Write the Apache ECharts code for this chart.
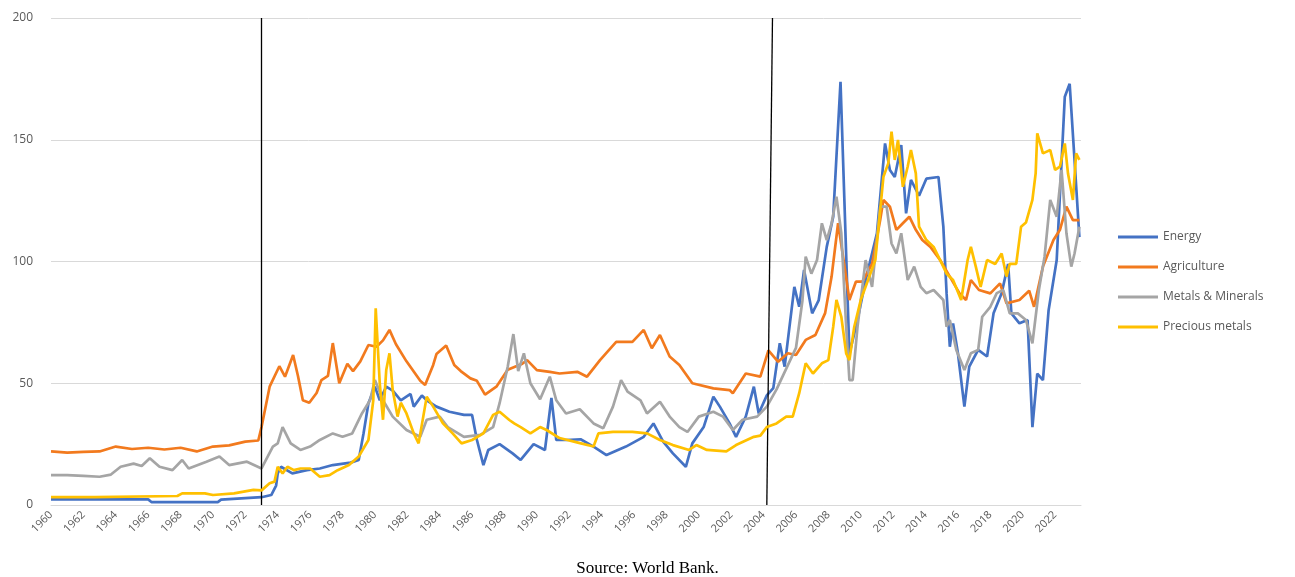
<!DOCTYPE html>
<html>
<head>
<meta charset="utf-8">
<script src="https://cdn.jsdelivr.net/npm/echarts@6/dist/echarts.min.js"></script>
<style>
  html, body { margin: 0; padding: 0; background: #fff; }
  #chart { width: 1295px; height: 577px; }
</style>
</head>
<body>
<div id="chart"></div>
<script>
// series names, colours kept separately
const seriesNames = ['Energy', 'Agriculture', 'Metals & Minerals', 'Precious metals']
const yTicks = [0, 50, 100, 150, 200]
// years with the two black vertical markers (bottom year, top year)
const shockLines = [[1973, 1973], [2004.2, 2004.55]]

// values, [year, index]
const energy = [[1960,2.3],[1962,2.3],[1964,2.3],[1966,2.3],[1966.2,1.2],[1968,1.2],[1970.3,1.2],[1970.5,2.2],[1972,2.8],[1973,3.2],[1973.6,4.1],[1973.9,8],[1974.0,13],[1974.2,15.7],[1974.9,13],[1975.8,14.3],[1976.6,15],[1977.4,16.4],[1978.5,17.4],[1979.0,18.5],[1979.3,29.5],[1979.6,41.8],[1980.0,48.6],[1980.3,43],[1980.7,48.6],[1981.1,47],[1981.6,43],[1982.2,45.6],[1982.4,40.4],[1982.9,45],[1983.2,43],[1983.8,40.4],[1984.6,38.3],[1985.5,37],[1986.0,37],[1986.3,26.7],[1986.7,16.4],[1987.0,22.6],[1987.7,25],[1988.5,21.2],[1989.0,18.5],[1989.8,25],[1990.5,22.6],[1990.9,44],[1991.2,26.7],[1991.8,26.7],[1992.7,27],[1993.5,24],[1994.3,20.5],[1995.5,24],[1996.6,28],[1997.2,33.5],[1997.8,26],[1998.4,21.2],[1999.2,15.7],[1999.6,25.3],[2000.3,32],[2000.9,44.5],[2001.3,40.4],[2001.9,33.5],[2002.3,28],[2002.9,36.3],[2003.4,48.6],[2003.7,37.6],[2004.2,45],[2004.6,48],[2005.0,66.4],[2005.3,56.8],[2005.9,89.6],[2006.2,81.4],[2006.5,96.5],[2007.0,78.7],[2007.4,84],[2007.9,106],[2008.3,118.4],[2008.75,173.8],[2009.3,62],[2009.8,76],[2010.35,93.8],[2011.0,111.6],[2011.5,148.5],[2011.8,137.6],[2012.1,134.7],[2012.5,147.8],[2012.8,119.8],[2013.1,133.5],[2013.6,127],[2014.05,134],[2014.8,134.7],[2015.1,114.3],[2015.3,87],[2015.5,65],[2015.7,74.6],[2016.0,62.3],[2016.4,40.4],[2016.7,56.8],[2017.25,63.7],[2017.8,61],[2018.2,78.7],[2018.7,87],[2019.1,99],[2019.3,78.7],[2019.8,74.6],[2020.3,76],[2020.6,32],[2020.9,54],[2021.25,51.3],[2021.6,80],[2022.1,100.6],[2022.6,167.7],[2022.9,173],[2023.2,141.7],[2023.5,110]]

const agriculture = [[1960,22],[1961,21.5],[1962,21.8],[1963,22],[1964,24],[1965,23],[1966,23.5],[1967,22.8],[1968,23.5],[1969,22],[1970,24],[1971,24.5],[1972,26],[1972.8,26.5],[1973.0,32],[1973.5,48.6],[1974.1,57],[1974.45,52.7],[1974.95,61.6],[1975.25,53],[1975.55,43],[1975.95,42],[1976.4,46],[1976.7,51.3],[1977.1,53],[1977.4,66.5],[1977.8,50],[1978.3,58],[1978.65,55],[1979.1,59],[1979.6,65.7],[1980.1,65],[1980.5,67.6],[1980.9,71.9],[1981.3,66],[1981.95,59],[1982.8,51],[1983.1,49.3],[1983.6,57.5],[1983.8,62],[1984.4,65.5],[1984.9,57.5],[1985.3,55],[1985.9,52],[1986.3,51],[1986.8,45.3],[1987.5,48.6],[1988.2,55.5],[1989.1,58],[1989.4,59.5],[1990.0,55.4],[1990.8,54.7],[1991.4,54],[1992.5,54.7],[1993.1,52.7],[1993.9,59.5],[1994.9,67],[1995.9,67],[1996.6,71.9],[1997.1,64.4],[1997.6,69.8],[1998.2,61],[1998.8,57.5],[1999.6,50],[2000.9,47.9],[2001.9,47.2],[2002.1,45.9],[2002.9,54],[2003.8,52.7],[2004.3,63.5],[2004.9,58.8],[2005.5,62.3],[2006.0,61.6],[2006.6,67.8],[2007.2,69.8],[2007.8,78.8],[2008.2,93.8],[2008.6,115.7],[2009.0,97.9],[2009.3,84.2],[2009.7,91.7],[2010.1,91.7],[2010.7,99],[2011.2,117],[2011.4,125.3],[2011.8,122.5],[2012.2,113],[2012.6,115.7],[2013.0,118.4],[2013.4,113],[2013.8,108.8],[2014.3,106],[2014.9,100.6],[2015.5,93.8],[2016.1,86.9],[2016.5,84.2],[2016.8,92.4],[2017.3,88.3],[2018.0,86.9],[2018.6,91],[2019.0,82.8],[2019.8,84.2],[2020.4,88],[2020.7,81.4],[2021.25,97.9],[2021.9,108.8],[2022.3,113],[2022.7,122.5],[2023.1,117],[2023.5,117]]

const metals = [[1960,12.3],[1961,12.3],[1962,12],[1963,11.6],[1963.7,12.5],[1964.3,15.7],[1965.1,17],[1965.6,16],[1966.1,19.2],[1966.7,15.7],[1967.5,14.3],[1968.1,18.5],[1968.5,15],[1969.6,17.8],[1970.4,19.9],[1971.0,16.4],[1972.1,17.8],[1973.0,15],[1973.7,24],[1974.0,25.3],[1974.3,32],[1974.8,25.3],[1975.4,22.6],[1976.0,24],[1976.6,26.7],[1977.4,29.4],[1978.0,28],[1978.6,29.4],[1979.2,37.6],[1979.7,43],[1980.0,51.3],[1980.5,43],[1981.1,36.3],[1981.95,30.8],[1982.8,28],[1983.2,35],[1984.0,36.3],[1984.5,32],[1985.5,28],[1986.5,28.8],[1987.3,32],[1987.7,41.8],[1988.2,56.8],[1988.55,70.2],[1988.85,55],[1989.2,62.3],[1989.6,50],[1990.2,43.4],[1990.8,52.7],[1991.2,43],[1991.8,37.6],[1992.65,39.3],[1993.5,33.5],[1994.1,31.5],[1994.7,40.4],[1995.2,51.3],[1995.6,46.6],[1996.4,43],[1996.8,37.6],[1997.6,42.4],[1998.2,36.3],[1998.8,32],[1999.3,30],[2000.0,36.3],[2000.9,38.3],[2001.5,36.3],[2002.1,30.8],[2002.7,35],[2003.6,36.3],[2004.2,40.4],[2004.8,47.5],[2005.4,56],[2006.0,64.5],[2006.4,84],[2006.6,102],[2006.95,95],[2007.3,100.6],[2007.6,115.7],[2007.9,108.8],[2008.2,115.7],[2008.5,126.6],[2008.8,111.6],[2009.1,73.2],[2009.3,51.3],[2009.5,51.3],[2009.8,73.2],[2010.1,89.6],[2010.3,100.6],[2010.7,89.6],[2011.2,122.5],[2011.6,122.5],[2011.9,107.4],[2012.2,103.3],[2012.5,111.6],[2012.9,92.4],[2013.3,97.9],[2013.7,89.6],[2014.05,87],[2014.5,88.3],[2015.1,84.2],[2015.3,73.2],[2015.5,76],[2015.9,63.7],[2016.4,55.4],[2016.8,62.3],[2017.25,63.7],[2017.5,77.3],[2018.0,81.4],[2018.4,87],[2018.8,88.3],[2019.2,78.7],[2019.7,78.7],[2020.2,76],[2020.6,66.4],[2021.0,88.3],[2021.35,102],[2021.7,125.3],[2022.1,118.4],[2022.4,137.6],[2022.7,111.6],[2023.0,97.9],[2023.2,103.3],[2023.5,114.3]]

const precious = [[1960,3.2],[1962.7,3.2],[1962.8,3.7],[1967.8,3.7],[1968.1,4.8],[1969.5,4.8],[1970,4.1],[1971.3,4.8],[1972.5,6.2],[1973,6],[1973.5,8.9],[1973.8,9.6],[1974.0,15.7],[1974.3,13],[1974.6,15.7],[1975,14.3],[1975.4,15],[1976.0,15],[1976.6,11.6],[1977.2,12.3],[1977.7,14.3],[1978.4,16.4],[1979.0,19.9],[1979.6,26.7],[1979.9,43],[1980.05,80.8],[1980.3,49.9],[1980.5,35],[1980.7,55.4],[1980.9,62.3],[1981.1,47.2],[1981.4,36.3],[1981.6,42],[1981.95,37.6],[1982.4,29.4],[1982.7,25.3],[1983.2,44.5],[1983.6,40.4],[1984.2,33.5],[1984.8,29.4],[1985.35,25.3],[1986.0,26.7],[1986.7,29.4],[1987.3,37],[1987.7,38.3],[1988.3,34.9],[1988.6,33.5],[1989.0,32],[1989.6,29.4],[1990.2,32],[1990.6,30.8],[1991.4,27.5],[1992.6,25.5],[1993.5,24],[1993.8,29.4],[1994.7,30],[1995.9,30],[1996.8,29.4],[1997.6,26.7],[1998.4,24.6],[1999.4,22.6],[1999.85,24.6],[2000.5,22.6],[2001.7,22],[2002.3,24.6],[2003.4,28],[2003.8,28.5],[2004.2,32],[2004.8,33.5],[2005.4,36.3],[2005.8,36.3],[2006.2,45.9],[2006.6,58.2],[2007.05,54],[2007.6,58.2],[2008.0,59.5],[2008.3,73.2],[2008.5,84.2],[2008.8,77.3],[2009.1,62.3],[2009.3,59.5],[2009.6,73.2],[2010.0,84.2],[2010.45,92.4],[2010.9,100.6],[2011.4,134.8],[2011.7,140.3],[2011.9,153.3],[2012.1,141.7],[2012.3,149.9],[2012.6,130.7],[2012.9,139],[2013.1,145.8],[2013.4,136.2],[2013.6,114.3],[2014.05,108.8],[2014.5,106],[2014.9,100.6],[2015.3,95],[2015.7,92.4],[2016.2,84.2],[2016.6,100.6],[2016.8,106],[2017.1,98],[2017.4,89.6],[2017.8,100.6],[2018.3,99],[2018.7,103.3],[2019.0,93.8],[2019.2,99],[2019.6,99],[2019.9,114.3],[2020.2,116],[2020.6,125.3],[2020.8,136.2],[2020.9,152.6],[2021.25,144.4],[2021.7,145.8],[2022.0,137.6],[2022.3,139],[2022.6,148.5],[2022.8,136],[2023.1,125.3],[2023.3,144.4],[2023.5,141.7]]

const allData = [energy, agriculture, metals, precious]
const colors = ['#4472C4', '#F27A1E', '#A5A5A5', '#FFC000']

const chart = echarts.init(document.getElementById('chart'))

let series = seriesNames.map(function (name, i) {
  return {
    name: name,
    type: 'line',
    data: allData[i],
    showSymbol: false,
    symbol: 'none',
    lineStyle: { width: 2.7, color: colors[i] },
    itemStyle: { color: colors[i] },
    z: 2 + i
  }
})

// black markers, attached to first series
series[0].markLine = {
  silent: true,
  symbol: 'none',
  label: { show: false },
  lineStyle: { color: '#000', width: 1.3, type: 'solid' },
  data: shockLines.map(function (s) {
    return [{ coord: [s[0], yTicks[0]] }, { coord: [s[1], yTicks[yTicks.length - 1]] }]
  })
}

const option = {
  animation: false,
  backgroundColor: '#fff',
  title: {
    text: 'Source: World Bank.',
    left: 'center',
    top: 555,
    textStyle: { fontFamily: 'Liberation Serif', fontSize: 17, fontWeight: 'normal', color: '#000' }
  },
  grid: { left: 51, right: 214, top: 18, bottom: 72 },
  legend: {
    orient: 'vertical',
    left: 1118,
    top: 231,
    padding: 0,
    itemWidth: 40,
    itemHeight: 3,
    itemGap: 18,
    itemTextGap: 1,
    icon: 'rect',
    data: seriesNames,
    textStyle: { color: '#595959', fontSize: 12, fontFamily: 'Open Sans' }
  },
  xAxis: {
    type: 'value',
    min: 1960,
    max: 2023.6,
    interval: 2,
    axisLine: { show: true, lineStyle: { color: '#d9d9d9' } },
    axisTick: { show: false },
    splitLine: { show: false },
    axisLabel: {
      rotate: 45,
      margin: 8,
      fontSize: 11,
      color: '#595959',
      fontFamily: 'Open Sans',
      showMaxLabel: false,
      formatter: function (v) { return Number.isInteger(v) ? String(v) : '' }
    }
  },
  yAxis: {
    type: 'value',
    min: yTicks[0],
    max: yTicks[yTicks.length - 1],
    interval: 50,
    axisLine: { show: false },
    axisTick: { show: false },
    splitLine: { lineStyle: { color: '#d9d9d9', width: 1 } },
    axisLabel: { color: '#595959', fontSize: 12, margin: 18, fontFamily: 'Open Sans' }
  },
  series: series
}

chart.setOption(option)
window.addEventListener('resize', function () {
  chart.resize()
})
</script>
</body>
</html>
